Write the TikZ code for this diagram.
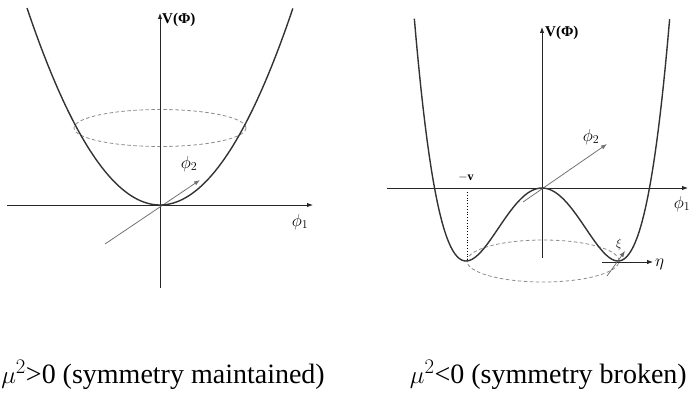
\documentclass[tikz,border=0pt]{standalone}
\usepackage{fontspec}
\setmainfont{Liberation Serif}
\usetikzlibrary{arrows.meta}
\tikzset{
  axisline/.style={line width=0.9pt, black!85},
  tip/.style={-{Latex[length=6pt,width=4.5pt]}},
  curveline/.style={line width=1.4pt, black!80},
  fieldaxis/.style={line width=0.8pt, black!55},
  ringline/.style={line width=0.8pt, black!45, dash pattern=on 3.5pt off 2.5pt},
  lbl/.style={inner sep=0pt, font=\fontsize{17}{19}\selectfont},
  vlbl/.style={inner sep=0pt, anchor=west, font=\bfseries\fontsize{15}{17}\selectfont},
  smalllbl/.style={inner sep=0pt, font=\bfseries\fontsize{12}{14}\selectfont},
  caption/.style={inner sep=0pt, font=\fontsize{28}{32}\selectfont}
}
\begin{document}
\begin{tikzpicture}[x=1pt,y=-1pt]
\useasboundingbox (0,0) rectangle (690,412);
% ---------- left panel ----------
\coordinate (O1) at (160,205);
\coordinate (xl1) at (7,205);
\coordinate (xr1) at (313,205);
\coordinate (yb1) at (160,288);
\coordinate (yt1) at (160,13);
\coordinate (pl1) at (105,244);
\coordinate (pr1) at (200,180);
\draw[ringline] (160,128) ellipse [x radius=86pt, y radius=18.5pt];
\draw[axisline,tip] (xl1) -- (xr1);
\draw[axisline,tip] (yb1) -- (yt1);
\draw[fieldaxis,tip] (pl1) -- (pr1);
\draw[curveline] plot[domain=-1:1, samples=90] ({160+133*\x},{205-197*\x*\x});
\node[vlbl] (V1) at (162,20) {V(Φ)};
\node[lbl] (phi11) at (300,222) {$\phi_1$};
\node[lbl] (phi21) at (189,164) {$\phi_2$};
% ---------- right panel ----------
\coordinate (O2) at (542,188);
\coordinate (xl2) at (387,188);
\coordinate (xr2) at (688,188);
\coordinate (yb2) at (542,258);
\coordinate (yt2) at (542,27);
\coordinate (pl2) at (523,202);
\coordinate (pr2) at (607,144);
\coordinate (dtop) at (467,192);
\coordinate (dbot) at (467,262);
\coordinate (etaL) at (602,262);
\coordinate (etaR) at (653,262);
\coordinate (xiL) at (607,276);
\coordinate (xiR) at (625,251);
\draw[ringline] (543,261) ellipse [x radius=76pt, y radius=21pt];
\draw[axisline,tip] (xl2) -- (xr2);
\draw[axisline,tip] (yb2) -- (yt2);
\draw[fieldaxis,tip] (pl2) -- (pr2);
\draw[line width=0.8pt, dotted] (dtop) -- (dbot);
\draw[curveline] plot[domain=-1.68:1.68, samples=120] ({542+76*\x},{188-73*(\x*\x*\x*\x-2*\x*\x)});
\draw[line width=0.8pt, black!85, tip] (etaL) -- (etaR);
\draw[line width=0.7pt, black!60, tip] (xiL) -- (xiR);
\node[vlbl] (V2) at (545,33) {V(Φ)};
\node[lbl] (phi12) at (682,204) {$\phi_1$};
\node[lbl] (phi22) at (591,137) {$\phi_2$};
\node[smalllbl] (mv) at (466,177) {$-$v};
\node[lbl, anchor=west] (eta) at (655,264) {$\eta$};
\node[smalllbl] (xi) at (619,244) {$\xi$};
% ---------- captions ----------
\node[caption, anchor=base east] (cap1) at (325,383) {$\mu^2$>0 (symmetry maintained)};
\node[caption, anchor=base east] (cap2) at (687,383) {$\mu^2$<0 (symmetry broken)};
\end{tikzpicture}
\end{document}
